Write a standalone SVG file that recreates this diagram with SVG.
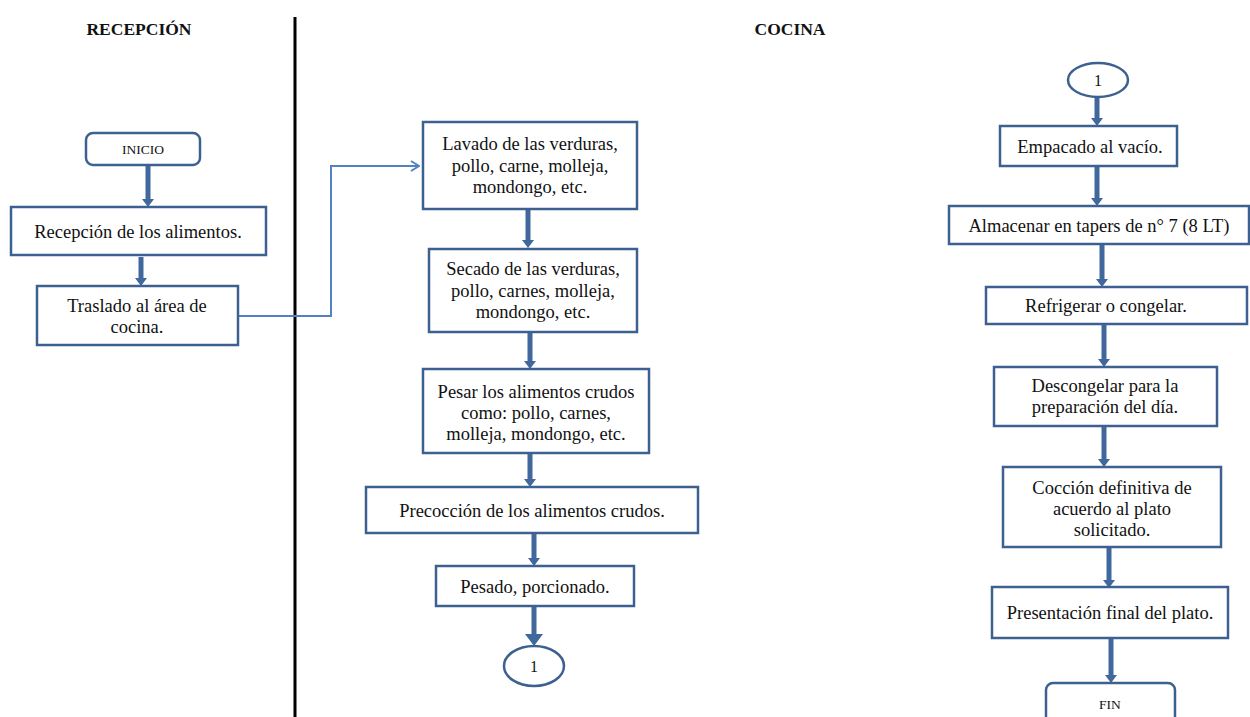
<svg xmlns="http://www.w3.org/2000/svg" width="1250" height="717" viewBox="0 0 1250 717">
  <defs>
    <style>
      .box { fill: #ffffff; stroke: #3c6191; stroke-width: 2.5; }
      .lbl { font-family: "Liberation Serif", "Times New Roman", serif; font-size: 18.5px; fill: #111; text-anchor: middle; }
      .sm { font-family: "Liberation Serif", "Times New Roman", serif; font-size: 13.5px; fill: #111; text-anchor: middle; }
      .num { font-family: "Liberation Serif", "Times New Roman", serif; font-size: 16px; fill: #111; text-anchor: middle; }
      .title { font-family: "Liberation Serif", "Times New Roman", serif; font-size: 17.5px; font-weight: bold; fill: #111; text-anchor: middle; }
      .flow { fill: none; stroke: #41689c; stroke-width: 5; }
      .link { fill: none; stroke: #5282bf; stroke-width: 2; }
    </style>
    <!-- solid heads drawn along +x; the shaft ends at the head's base -->
    <marker id="head" markerUnits="userSpaceOnUse" viewBox="0 0 8 12" refX="0" refY="6" markerWidth="8" markerHeight="12" orient="auto">
      <path d="M0,0 L8,6 L0,12 Z" fill="#41689c"/>
    </marker>
    <marker id="headBig" markerUnits="userSpaceOnUse" viewBox="0 0 12 18" refX="0" refY="9" markerWidth="12" markerHeight="18" orient="auto">
      <path d="M0,0 L12,9 L0,18 Z" fill="#41689c"/>
    </marker>
    <marker id="open" markerUnits="userSpaceOnUse" viewBox="0 0 10 12" refX="9" refY="6" markerWidth="10" markerHeight="12" orient="auto">
      <path d="M1,1 L9,6 L1,11" fill="none" stroke="#5282bf" stroke-width="2"/>
    </marker>
  </defs>

  <!-- swimlane headers and divider -->
  <g id="lanes">
    <text class="title" x="139" y="35">RECEPCIÓN</text>
    <text class="title" x="790" y="35">COCINA</text>
    <line x1="295" y1="17" x2="295" y2="717" stroke="#000" stroke-width="3"/>
  </g>

  <!-- connectors -->
  <g id="connectors">
    <path class="flow" d="M148,165 V199" marker-end="url(#head)"/>
    <path class="flow" d="M141,257 V278" marker-end="url(#head)"/>
    <path class="link" d="M238,316 H331 V166 H419" marker-end="url(#open)"/>
    <path class="flow" d="M528,209 V240" marker-end="url(#head)"/>
    <path class="flow" d="M530,332 V361" marker-end="url(#head)"/>
    <path class="flow" d="M530,453 V479" marker-end="url(#head)"/>
    <path class="flow" d="M534,533 V558" marker-end="url(#head)"/>
    <path class="flow" d="M534,606 V634" stroke-width="7" marker-end="url(#headBig)"/>

    <path class="flow" d="M1097,97 V118" marker-end="url(#head)"/>
    <path class="flow" d="M1097,166 V198" marker-end="url(#head)"/>
    <path class="flow" d="M1102,244 V279" marker-end="url(#head)"/>
    <path class="flow" d="M1104,324 V359" marker-end="url(#head)"/>
    <path class="flow" d="M1104,426 V459" marker-end="url(#head)"/>
    <path class="flow" d="M1109,547 V580" marker-end="url(#head)"/>
    <path class="flow" d="M1111,638 V675" marker-end="url(#head)"/>
  </g>

  <!-- reception lane -->
  <g id="inicio">
    <rect class="box" x="86" y="133" width="114" height="32" rx="7"/>
    <text class="sm" x="143" y="154">INICIO</text>
  </g>
  <g id="recepcion">
    <rect class="box" x="11" y="207" width="255" height="48"/>
    <text class="lbl" x="138" y="238">Recepción de los alimentos.</text>
  </g>
  <g id="traslado">
    <rect class="box" x="37" y="286" width="201" height="59"/>
    <text class="lbl" x="137" y="312">Traslado al área de</text>
    <text class="lbl" x="137" y="333">cocina.</text>
  </g>

  <!-- kitchen lane, first column -->
  <g id="lavado">
    <rect class="box" x="423" y="122" width="214" height="87"/>
    <text class="lbl" x="530" y="150">Lavado de las verduras,</text>
    <text class="lbl" x="530" y="172">pollo, carne, molleja,</text>
    <text class="lbl" x="530" y="193">mondongo, etc.</text>
  </g>
  <g id="secado">
    <rect class="box" x="429" y="249" width="208" height="83"/>
    <text class="lbl" x="533" y="275">Secado de las verduras,</text>
    <text class="lbl" x="533" y="297">pollo, carnes, molleja,</text>
    <text class="lbl" x="533" y="318">mondongo, etc.</text>
  </g>
  <g id="pesar">
    <rect class="box" x="423" y="369" width="226" height="84"/>
    <text class="lbl" x="536" y="398">Pesar los alimentos crudos</text>
    <text class="lbl" x="536" y="419">como: pollo, carnes,</text>
    <text class="lbl" x="536" y="440">molleja, mondongo, etc.</text>
  </g>
  <g id="precoccion">
    <rect class="box" x="366" y="487" width="332" height="46"/>
    <text class="lbl" x="532" y="517">Precocción de los alimentos crudos.</text>
  </g>
  <g id="pesado">
    <rect class="box" x="436" y="566" width="198" height="40"/>
    <text class="lbl" x="535" y="593">Pesado, porcionado.</text>
  </g>
  <g id="conector-1-out">
    <ellipse cx="534" cy="666" rx="30" ry="20" fill="#fff" stroke="#3c6191" stroke-width="2.5"/>
    <text class="num" x="534" y="672">1</text>
  </g>

  <!-- kitchen lane, second column -->
  <g id="conector-1-in">
    <ellipse cx="1098" cy="80" rx="30" ry="17" fill="#fff" stroke="#3c6191" stroke-width="2.5"/>
    <text class="num" x="1098" y="86">1</text>
  </g>
  <g id="empacado">
    <rect class="box" x="1000" y="126" width="177" height="40"/>
    <text class="lbl" x="1090" y="153">Empacado al vacío.</text>
  </g>
  <g id="almacenar">
    <rect class="box" x="949" y="206" width="300" height="38"/>
    <text class="lbl" x="1099" y="232">Almacenar en tapers de n° 7 (8 LT)</text>
  </g>
  <g id="refrigerar">
    <rect class="box" x="986" y="287" width="261" height="37"/>
    <text class="lbl" x="1106" y="312">Refrigerar o congelar.</text>
  </g>
  <g id="descongelar">
    <rect class="box" x="994" y="367" width="223" height="59"/>
    <text class="lbl" x="1105" y="392">Descongelar para la</text>
    <text class="lbl" x="1105" y="413">preparación del día.</text>
  </g>
  <g id="coccion">
    <rect class="box" x="1003" y="467" width="218" height="80"/>
    <text class="lbl" x="1112" y="494">Cocción definitiva de</text>
    <text class="lbl" x="1112" y="515">acuerdo al plato</text>
    <text class="lbl" x="1112" y="536">solicitado.</text>
  </g>
  <g id="presentacion">
    <rect class="box" x="992" y="587" width="236" height="51"/>
    <text class="lbl" x="1110" y="619">Presentación final del plato.</text>
  </g>
  <g id="fin">
    <rect class="box" x="1046" y="683" width="129" height="50" rx="7"/>
    <text class="sm" x="1110" y="709">FIN</text>
  </g>
</svg>
